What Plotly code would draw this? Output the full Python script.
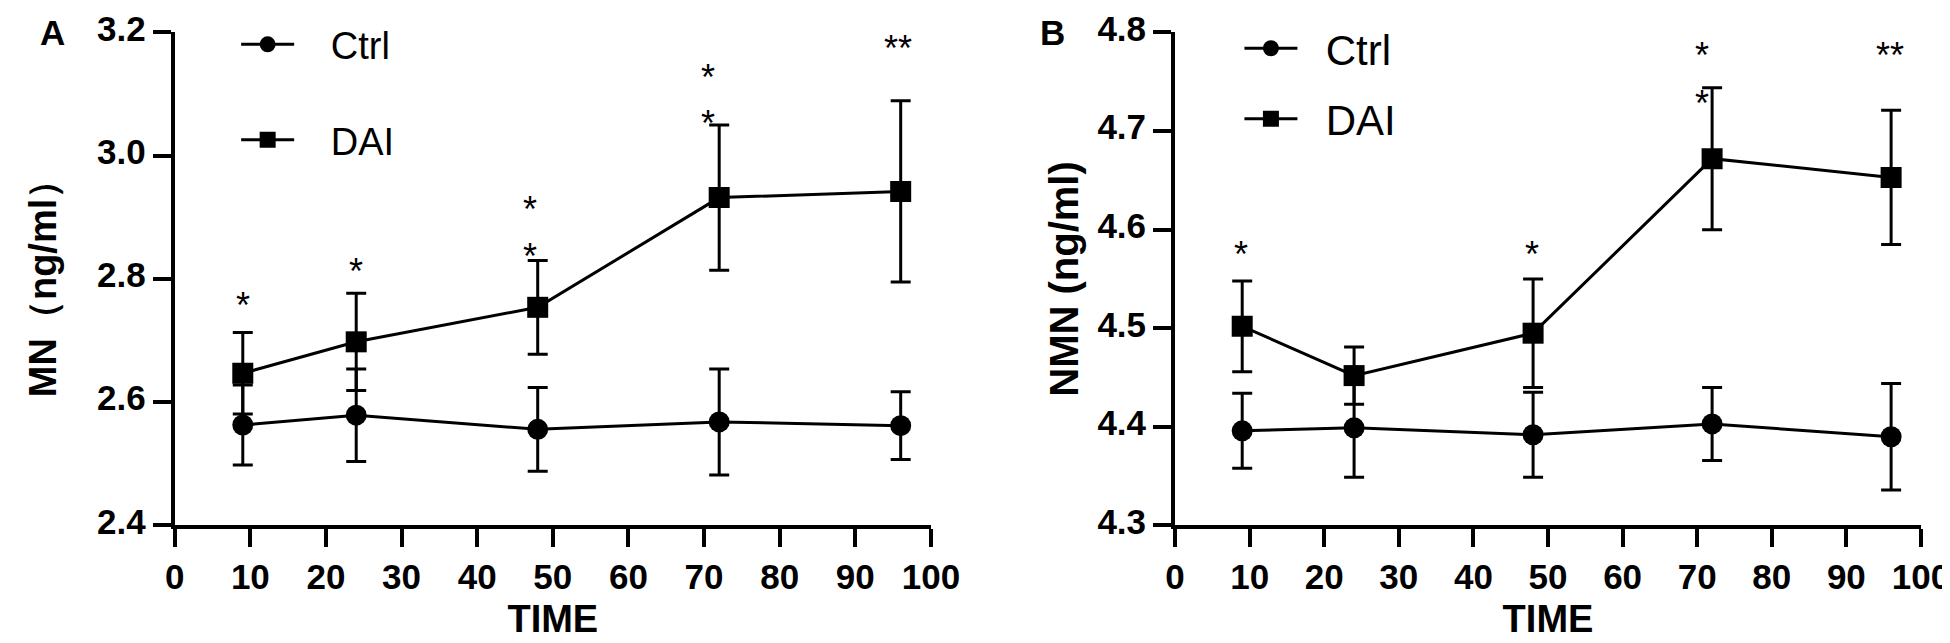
import plotly.graph_objects as go

# sampling times (h)
time = [9, 24, 48, 72, 96]

# panel A: MN (ng/ml), mean and SD
mn_ctrl = [2.563, 2.579, 2.556, 2.568, 2.562]
mn_ctrl_sd = [0.065, 0.075, 0.068, 0.086, 0.055]
mn_dai = [2.647, 2.698, 2.754, 2.932, 2.942]
mn_dai_sd = [0.066, 0.079, 0.076, 0.118, 0.147]

# panel B: NMN (ng/ml), mean and SD
nmn_ctrl = [4.396, 4.399, 4.392, 4.403, 4.390]
nmn_ctrl_sd = [0.038, 0.050, 0.043, 0.037, 0.054]
nmn_dai = [4.502, 4.452, 4.495, 4.672, 4.653]
nmn_dai_sd = [0.046, 0.029, 0.055, 0.072, 0.068]

# axis ticks
x_ticks = [0, 10, 20, 30, 40, 50, 60, 70, 80, 90, 100]
mn_ticks = [2.4, 2.6, 2.8, 3.0, 3.2]
nmn_ticks = [4.3, 4.4, 4.5, 4.6, 4.7, 4.8]

# significance marks
star_a_x = [9, 24, 47, 47, 70.5, 70.5, 95.6]
star_a_y = [2.758, 2.813, 2.914, 2.838, 3.128, 3.054, 3.175]
star_a_txt = ["*", "*", "*", "*", "*", "*", "**"]
star_b_x = [8.9, 47.8, 70.6, 70.6, 95.9]
star_b_y = [4.576, 4.576, 4.778, 4.729, 4.778]
star_b_txt = ["*", "*", "*", "*", "**"]

FONT = "Arial, Liberation Sans, sans-serif"

fig = go.Figure()


def add_series(y, sd, name, symbol, xa, ya, legend, group):
    fig.add_trace(go.Scatter(
        x=time, y=y, name=name, mode="lines+markers",
        xaxis=xa, yaxis=ya, legend=legend, legendgroup=group,
        line=dict(color="black", width=3),
        marker=dict(symbol=symbol, size=21, color="black"),
        error_y=dict(type="data", array=sd, visible=True,
                     color="black", thickness=3, width=10),
    ))


pad_a = "\u00a0" * 3
pad_b = "\u00a0" * 2
add_series(mn_ctrl, mn_ctrl_sd, pad_a + "Ctrl", "circle", "x", "y", "legend", "a1")
add_series(mn_dai, mn_dai_sd, pad_a + "DAI", "square", "x", "y", "legend", "a2")
add_series(nmn_ctrl, nmn_ctrl_sd, pad_b + "Ctrl", "circle", "x2", "y2", "legend2", "b1")
add_series(nmn_dai, nmn_dai_sd, pad_b + "DAI", "square", "x2", "y2", "legend2", "b2")

for sx, sy, st in zip(star_a_x, star_a_y, star_a_txt):
    fig.add_annotation(x=sx, y=sy, text=st, xref="x", yref="y", showarrow=False,
                       yshift=-1, font=dict(family=FONT, size=36, color="black"))
for sx, sy, st in zip(star_b_x, star_b_y, star_b_txt):
    fig.add_annotation(x=sx, y=sy, text=st, xref="x2", yref="y2", showarrow=False,
                       yshift=-1, font=dict(family=FONT, size=36, color="black"))

# panel letters
for lx, lt in [(0.0155, "A"), (0.528, "B")]:
    fig.add_annotation(x=lx, y=0.995, xref="paper", yref="paper", text=lt,
                       showarrow=False, xanchor="left", yanchor="top",
                       font=dict(family=FONT, size=35, color="black", weight="bold"))

tickfont = dict(family=FONT, size=35, color="black", weight="bold")
titlefont = dict(family=FONT, size=40, color="black", weight="bold")
xtitlefont = dict(family=FONT, size=38, color="black", weight="bold")

xcommon = dict(range=[0, 100], tickvals=x_ticks, showline=True, linewidth=4,
               linecolor="black", ticks="outside", ticklen=18, tickwidth=4,
               tickcolor="black", showgrid=False, zeroline=False, tickfont=tickfont,
               ticklabeloverflow="allow", automargin=False,
               title=dict(text="TIME", font=xtitlefont, standoff=11))
ycommon = dict(showline=True, linewidth=4, linecolor="black",
               ticks="outside", ticklen=18, tickwidth=4, tickcolor="black",
               showgrid=False, zeroline=False, tickfont=tickfont, tickformat=".1f",
               ticklabeloverflow="allow", ticklabelshift=-4, automargin=False)

fig.update_layout(
    width=1950, height=643,
    margin=dict(l=0, r=0, t=0, b=0),
    paper_bgcolor="white", plot_bgcolor="white",
    xaxis=dict(domain=[0.0855, 0.4733], anchor="y", **xcommon),
    xaxis2=dict(domain=[0.5985, 0.9810], anchor="y2", **xcommon),
    yaxis=dict(domain=[0.1952, 0.962], anchor="x", range=[2.4, 3.2], tickvals=mn_ticks,
               title=dict(text="MN（ng/ml）", font=dict(titlefont, size=38), standoff=30),
               **ycommon),
    yaxis2=dict(domain=[0.1952, 0.962], anchor="x2", range=[4.3, 4.8], tickvals=nmn_ticks,
                title=dict(text="NMN (ng/ml)", font=titlefont, standoff=7), **ycommon),
    legend=dict(x=0.117, y=0.992, xanchor="left", yanchor="top", bgcolor="rgba(0,0,0,0)",
                font=dict(family=FONT, size=38, color="black"), itemwidth=53,
                tracegroupgap=43),
    legend2=dict(x=0.6315, y=0.99, xanchor="left", yanchor="top", bgcolor="rgba(0,0,0,0)",
                 font=dict(family=FONT, size=42, color="black"), itemwidth=53,
                 tracegroupgap=13),
    showlegend=True,
)

fig.write_html("out.html")
